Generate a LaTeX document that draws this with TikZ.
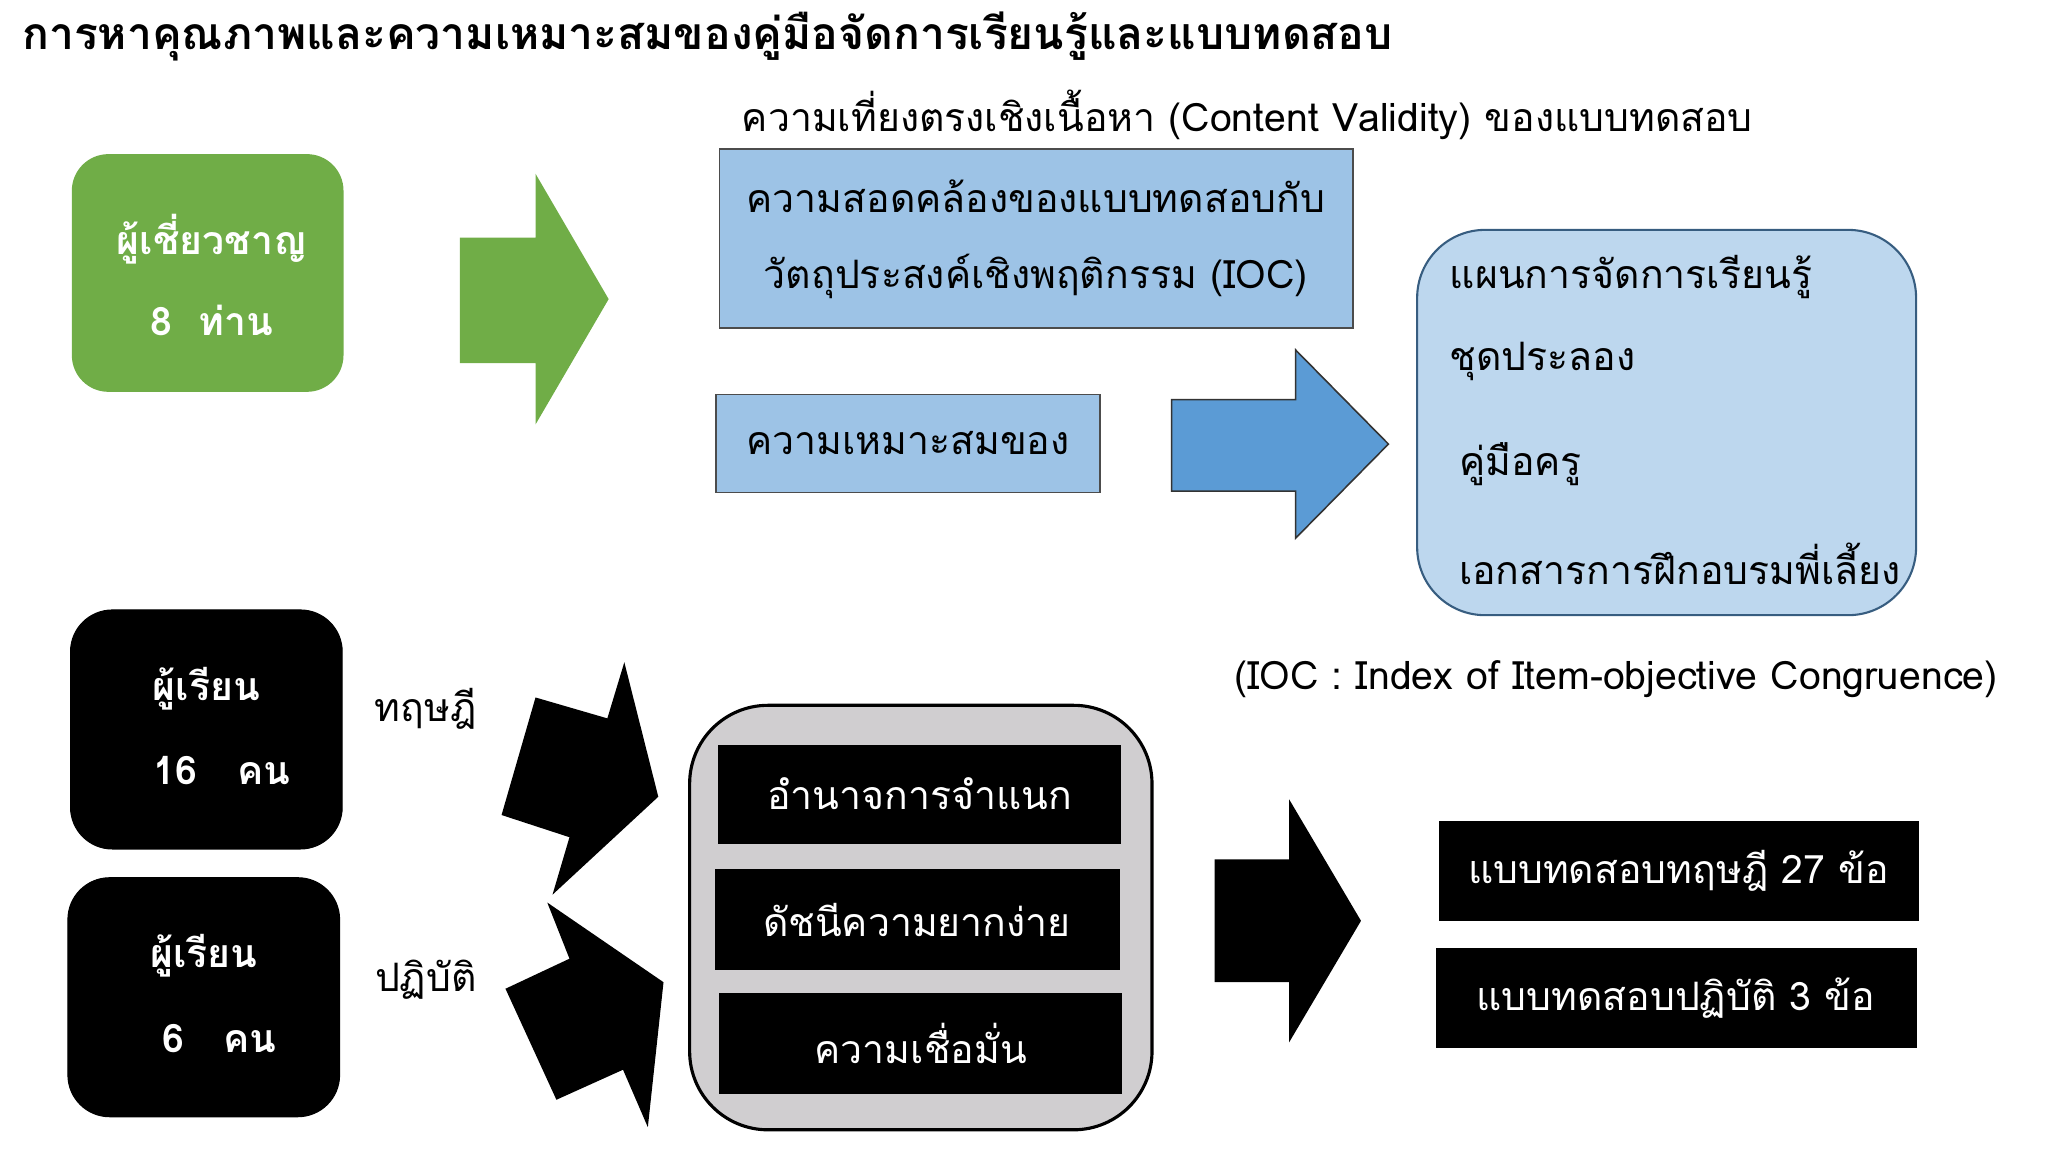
\documentclass[tikz,border=0pt]{standalone}
\usepackage{fontspec}
\newfontfamily\thai[Script=Thai]{Loma}
\setmainfont[Script=Thai]{Loma}
\begin{document}
\begin{tikzpicture}[x=0.5pt,y=-0.5pt,
  t/.style={font=\fontsize{15}{18}\selectfont},
  wt/.style={font=\fontsize{15}{18}\selectfont\bfseries,text=white},
  blk/.style={fill=black,draw=black},
  bluebox/.style={fill=blue1,draw=black!70,line width=0.6pt}]
\definecolor{green1}{HTML}{70AD47}
\definecolor{blue1}{HTML}{9DC3E6}
\definecolor{blue2}{HTML}{BDD7EE}
\definecolor{blue3}{HTML}{5B9BD5}
\definecolor{gray1}{HTML}{D0CED0}
\useasboundingbox (0,0) rectangle (1568,882);
\node[anchor=west,font=\fontsize{17}{20}\selectfont\bfseries] (title) at (10,28) {การหาคุณภาพและความเหมาะสมของคู่มือจัดการเรียนรู้และแบบทดสอบ};
\node[t] (sub) at (955,88) {ความเที่ยงตรงเชิงเนื้อหา (Content Validity) ของแบบทดสอบ};
% green
\draw[fill=green1,draw=none,rounded corners=14pt] (55,118) rectangle (263,300);
\node[wt] (ex1) at (162,183) {ผู้เชี่ยวชาญ};
\node[wt] (ex2) at (162,245) {8\ \ ท่าน};
\fill[green1] (352,182) -- (410,182) -- (410,133) -- (466,229) -- (410,325) -- (410,278) -- (352,278) -- cycle;
% blue boxes
\draw[bluebox] (551,114) rectangle (1036,251);
\node[t] (b1a) at (793,150) {ความสอดคล้องของแบบทดสอบกับ};
\node[t] (b1b) at (793,212) {วัตถุประสงค์เชิงพฤติกรรม (IOC)};
\draw[bluebox] (548,302) rectangle (842,377);
\node[t] (b2) at (695,339) {ความเหมาะสมของ};
\draw[fill=blue3,draw=black!80,line width=0.6pt] (897,306) -- (992,306) -- (992,268) -- (1063,340) -- (992,412) -- (992,376) -- (897,376) -- cycle;
\draw[fill=blue2,draw=blue3!60!black,line width=0.8pt,rounded corners=26pt] (1085,176) rectangle (1467,471);
\node[t,anchor=west] (r1) at (1103,212) {แผนการจัดการเรียนรู้};
\node[t,anchor=west] (r2) at (1103,277) {ชุดประลอง};
\node[t,anchor=west] (r3) at (1110,355) {คู่มือครู};
\node[t,anchor=west] (r4) at (1110,432) {เอกสารการฝึกอบรมพี่เลี้ยง};
\node[t,anchor=west] (ioc) at (938,520) {(IOC : Index of Item-objective Congruence)};
% learners
\draw[blk,rounded corners=16pt] (54,467) rectangle (262,650);
\node[wt] (l1a) at (158,527) {ผู้เรียน};
\node[wt] (l1b) at (170,590) {16\ \ \ คน};
\draw[blk,rounded corners=16pt] (52,672) rectangle (260,855);
\node[wt] (l2a) at (156,732) {ผู้เรียน};
\node[wt] (l2b) at (168,795) {6\ \ \ คน};
\node[t] (th) at (326,543) {ทฤษฎี};
\node[t] (pr) at (326,750) {ปฏิบัติ};
\fill[black] (478,507) -- (465,550) -- (410,534) -- (384,624) -- (436,641) -- (423,685) -- (504,610) -- cycle;
\fill[black] (419,691) -- (436,734) -- (387,757) -- (426,842) -- (477,819) -- (496,863) -- (508,752) -- cycle;
% gray box
\draw[fill=gray1,draw=black,line width=1.2pt,rounded corners=30pt] (528,540) rectangle (882,865);
\draw[blk] (550,571) rectangle (858,646);
\node[t,text=white] (g1) at (704,608) {อำนาจการจำแนก};
\draw[blk] (548,666) rectangle (857,742);
\node[t,text=white] (g2) at (702,704) {ดัชนีความยากง่าย};
\draw[blk] (551,761) rectangle (859,837);
\node[t,text=white] (g3) at (705,799) {ความเชื่อมั่น};
\fill[black] (930,658) -- (987,658) -- (987,612) -- (1042,705) -- (987,798) -- (987,752) -- (930,752) -- cycle;
\draw[blk] (1102,629) rectangle (1469,705);
\node[t,text=white] (o1) at (1285,667) {แบบทดสอบทฤษฎี 27 ข้อ};
\draw[blk] (1100,726) rectangle (1467,802);
\node[t,text=white] (o2) at (1283,764) {แบบทดสอบปฏิบัติ 3 ข้อ};
\end{tikzpicture}
\end{document}
